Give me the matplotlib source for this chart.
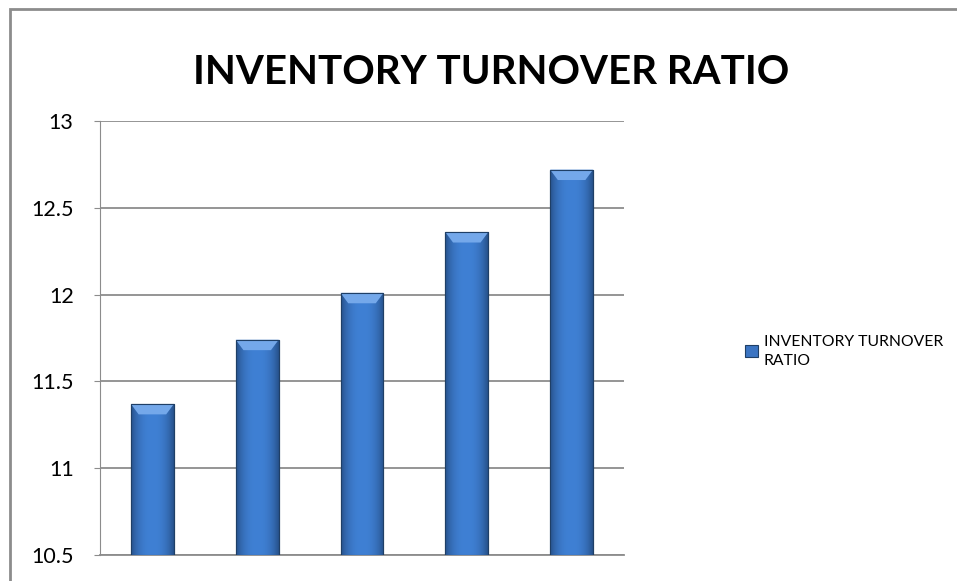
import matplotlib
matplotlib.use("Agg")
import matplotlib.pyplot as plt
import numpy as np
from matplotlib.patches import Rectangle, Polygon

categories = ["1", "2", "3", "4", "5"]
values = [11.37, 11.74, 12.01, 12.36, 12.72]
series_name = "INVENTORY TURNOVER\nRATIO"
title = "INVENTORY TURNOVER RATIO"
yticks = [10.5, 11, 11.5, 12, 12.5, 13]
ytick_labels = ["10.5", "11", "11.5", "12", "12.5", "13"]

FONT = "Lato"
W, H = 957, 581
fig = plt.figure(figsize=(W / 100, H / 100), dpi=100)
fig.patch.set_facecolor("white")

ax = fig.add_axes([100 / W, 26 / H, 524 / W, 434 / H])
x = np.arange(len(categories))
base = 10.5
bars = ax.bar(x, [v - base for v in values], bottom=base, width=0.41,
              color="#3b74c2", edgecolor="#1f3f66", linewidth=0.8,
              zorder=3, label=series_name)
ax.set_xlim(-0.5, len(categories) - 0.5)
ax.set_ylim(10.5, 13)

# gradient shading inside each bar
grad = np.linspace(-1, 1, 64)
prof = 1 - 0.55 * np.abs(grad) ** 2.5
c_mid = np.array([0x3f, 0x80, 0xd4]) / 255
c_dark = np.array([0x27, 0x52, 0x8c]) / 255
img = (c_dark[None, :] + (c_mid - c_dark)[None, :] * ((prof - 0.45) / 0.55)[:, None])
img = np.clip(img, 0, 1)[None, :, :]
for b in bars:
    x0, y0 = b.get_x(), b.get_y()
    w, h = b.get_width(), b.get_height()
    im = ax.imshow(img, extent=[x0, x0 + w, y0, y0 + h], aspect="auto",
                   zorder=3.5, interpolation="bilinear")
    im.set_clip_path(b)
    bev = 0.06
    inset = w * 0.18
    top = y0 + h
    ax.add_patch(Polygon([[x0, top], [x0 + w, top], [x0 + w - inset, top - bev],
                          [x0 + inset, top - bev]], closed=True,
                         facecolor="#74a8ea", edgecolor="none", zorder=3.8))
    ax.add_patch(Rectangle((x0, y0), w, h, fill=False, edgecolor="#1f3f66",
                           linewidth=0.8, zorder=3.9))

ax.set_yticks(yticks)
ax.set_yticklabels(ytick_labels, fontsize=15.5, family=FONT)
ax.set_xticks([])
ax.grid(axis="y", color="#8c8c8c", linewidth=1.3, zorder=0)
for s in ["top", "right"]:
    ax.spines[s].set_visible(False)
ax.spines["left"].set_color("#8c8c8c")
ax.spines["bottom"].set_color("#8c8c8c")
ax.spines["bottom"].set_linewidth(1.3)
ax.tick_params(axis="y", length=4, color="#8c8c8c", pad=15)

fig.text(491 / W, 1 - 73 / H, title, ha="center", va="center",
         fontsize=29, fontweight="bold", family=FONT)

leg = fig.legend(handles=[bars], labels=[series_name],
                 loc="upper left", bbox_to_anchor=(731 / W, 1 - 321 / H),
                 frameon=False, prop={"family": FONT, "size": 11.3},
                 handlelength=0.8, handleheight=0.8, handletextpad=0.4,
                 labelspacing=0.2)
for t in leg.get_texts():
    t.set_linespacing(1.4)

fig.add_artist(Rectangle((10 / W, -0.1), 1.1, 1.1 - 9 / H,
                         transform=fig.transFigure, fill=False,
                         edgecolor="#8c8c8c", linewidth=2))

fig.savefig("out.png", dpi=100)
